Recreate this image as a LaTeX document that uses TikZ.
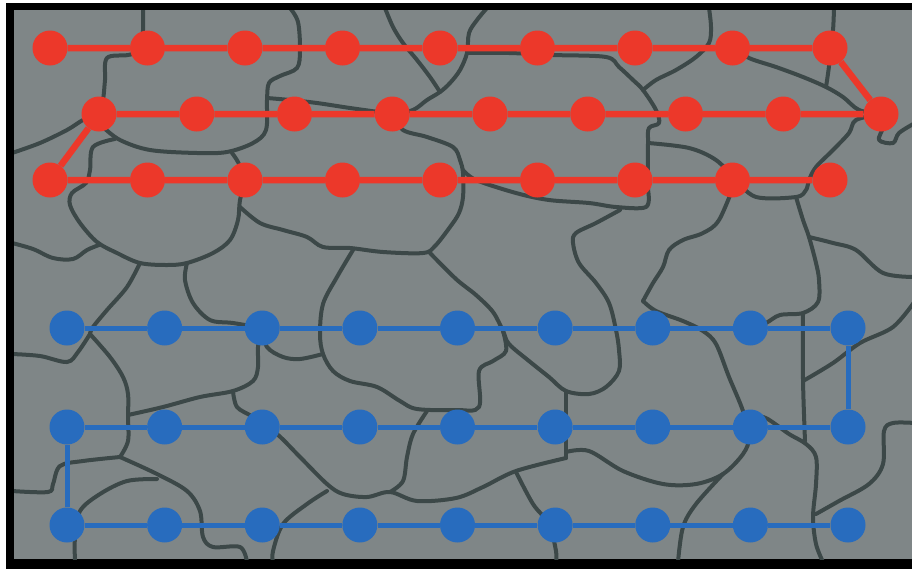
\documentclass[tikz,border=0pt]{standalone}
\usetikzlibrary{calc}
\definecolor{fieldgray}{RGB}{127,134,135}
\definecolor{wallslate}{RGB}{60,72,72}
\definecolor{routered}{RGB}{236,56,42}
\definecolor{routeblue}{RGB}{40,108,190}
\tikzset{
  wall/.style={draw=wallslate, line width=4pt, line cap=round, line join=round},
  reddot/.style={circle, fill=routered, inner sep=0pt, minimum size=35pt},
  bluedot/.style={circle, fill=routeblue, inner sep=0pt, minimum size=35pt},
  redroute/.style={draw=routered, line width=6.5pt},
  blueroute/.style={draw=routeblue, line width=5pt},
}
\newcommand{\wallpath}[1]{\draw[wall] plot[smooth, tension=0.55] coordinates {#1};}
\begin{document}
\begin{tikzpicture}[x=1pt, y=-1pt]
\useasboundingbox (0,0) rectangle (912,568);
\fill[white] (0,0) rectangle (912,568);
% frame and field
\fill[black] (6,3) rectangle (930,590);
\fill[fieldgray] (14,10) rectangle (930,559);

% cell walls
\begin{scope}
\clip (14,10) rectangle (930,559);
\wallpath{(143,8) (143,30) (141,50) (128,55) (107,58) (105,80) (103,100) (99,114)}
\wallpath{(103,127) (120,140) (150,150) (197,153) (227,152) (253,143) (266,130) (267,100) (269,83) (280,76) (297,68) (300,50) (298,22) (290,8)}
\wallpath{(267,98) (290,100) (317,103) (350,108) (393,114)}
\wallpath{(12,153) (40,143) (67,130) (83,120) (99,114)}
\wallpath{(115,139) (93,147) (90,170) (86,183) (72,193) (70,205) (80,223) (97,242) (117,253) (140,263) (167,265) (187,263) (213,253) (230,240) (238,220) (240,200) (246,180)}
\wallpath{(246,180) (238,162) (232,153)}
\wallpath{(12,243) (33,249) (53,258) (73,259) (87,250) (99,245)}
\wallpath{(240,207) (260,223) (283,230) (307,237) (323,247) (350,248) (383,252) (423,253) (435,246) (450,227) (459,213) (463,197) (463,173) (460,160) (453,147) (427,137) (403,130) (393,114)}
\wallpath{(463,170) (476,180) (516,193) (549,200) (589,203) (616,207) (646,207) (648,190)}
\wallpath{(430,253) (456,279) (476,295) (493,312) (503,331) (509,344) (529,361) (549,377) (566,391) (589,394) (606,387) (619,371) (619,350) (616,330) (609,303) (596,283) (579,263) (573,243) (576,233) (596,223) (620,210)}
\wallpath{(503,331) (506,351) (493,361) (479,371) (479,407) (456,410) (417,409) (400,401) (377,387) (350,381) (333,371) (323,354) (320,334) (323,304) (337,277) (353,250)}
\wallpath{(427,411) (413,434) (407,457) (403,481) (390,492)}
\wallpath{(323,354) (300,359) (283,357) (267,347) (262,328)}
\wallpath{(187,263) (185,280) (193,303) (210,320) (233,323) (262,328)}
\wallpath{(140,263) (127,287) (107,310) (93,327) (90,334)}
\wallpath{(12,354) (40,356) (67,362) (78,352) (90,334)}
\wallpath{(90,334) (110,357) (123,377) (128,394) (128,417) (128,441) (120,457)}
\wallpath{(120,457) (83,461) (60,466) (53,484) (48,492) (12,491)}
\wallpath{(120,457) (157,474) (187,491) (200,511) (203,537) (213,547) (240,547) (247,562)}
\wallpath{(157,479) (127,481) (100,494) (80,511) (75,537) (75,562)}
\wallpath{(128,415) (163,407) (200,397) (233,391) (253,381) (258,367) (258,347) (262,328)}
\wallpath{(233,391) (237,407) (253,417) (277,434) (300,457) (327,484) (343,494) (367,497) (390,492) (417,501) (456,498) (483,487) (516,471) (566,458)}
\wallpath{(566,391) (566,424) (566,458)}
\wallpath{(566,452) (589,451) (623,471) (663,484) (696,484) (723,474) (743,454) (749,437) (743,411) (729,377) (716,344) (703,331) (683,321) (656,311) (643,301)}
\wallpath{(643,301) (653,283) (663,267) (669,250) (683,240) (703,233) (719,220) (736,180)}
\wallpath{(796,197) (803,220) (809,237) (816,263) (819,280) (818,302) (803,313) (780,315) (766,323) (751,328)}
\wallpath{(803,313) (803,380) (805,441)}
\wallpath{(751,427) (763,417) (789,434) (806,444) (816,457) (816,484) (813,517) (816,544) (823,562)}
\wallpath{(803,381) (833,363) (860,343) (893,327) (915,301)}
\wallpath{(816,514) (839,501) (869,484) (883,464) (884,431) (893,423) (915,423)}
\wallpath{(516,472) (533,504) (549,524) (556,551) (556,562)}
\wallpath{(723,474) (696,504) (683,527) (678,562)}
\wallpath{(327,491) (307,504) (283,524) (273,551) (273,562)}
\wallpath{(487,8) (477,20) (469,33) (467,53) (460,70) (450,83) (440,92) (427,100) (413,110) (393,114)}
\wallpath{(385,8) (393,27) (403,43) (417,60) (430,77) (440,92)}
\wallpath{(467,53) (509,53) (553,55) (606,57) (619,67) (633,80) (643,90) (656,110) (659,123) (649,128) (648,143) (648,190)}
\wallpath{(643,90) (656,80) (676,70) (696,57) (709,43) (711,27) (709,8)}
\wallpath{(736,48) (749,58) (776,67) (803,77) (826,87) (843,97) (859,110) (881,114)}
\wallpath{(834,8) (833,30) (830,48) (829,66) (826,87)}
\wallpath{(881,114) (856,120) (849,133) (833,150) (816,167) (809,180) (806,190) (796,197) (756,197) (736,180)}
\wallpath{(881,114) (883,127) (879,140) (893,143) (899,133) (915,123)}
\wallpath{(648,143) (689,148) (716,160) (736,180)}
\wallpath{(809,237) (833,243) (856,250) (883,273) (915,277)}
\end{scope}

% red route stops
\foreach \i in {1,...,9} {
  \node[reddot] (r1-\i) at ({50+97.5*(\i-1)},48) {};
  \node[reddot] (r2-\i) at ({99+97.75*(\i-1)},114) {};
  \node[reddot] (r3-\i) at ({50+97.5*(\i-1)},180) {};
}
% red route
\draw[redroute] (r1-1) -- (r1-2) -- (r1-3) -- (r1-4) -- (r1-5) -- (r1-6) -- (r1-7) -- (r1-8) -- (r1-9)
  -- (r2-9) -- (r2-8) -- (r2-7) -- (r2-6) -- (r2-5) -- (r2-4) -- (r2-3) -- (r2-2) -- (r2-1)
  -- (r3-1) -- (r3-2) -- (r3-3) -- (r3-4) -- (r3-5) -- (r3-6) -- (r3-7) -- (r3-8) -- (r3-9);

% blue route stops
\foreach \i in {1,...,9} {
  \node[bluedot] (b1-\i) at ({67+97.625*(\i-1)},328) {};
  \node[bluedot] (b2-\i) at ({67+97.625*(\i-1)},427) {};
  \node[bluedot] (b3-\i) at ({67+97.625*(\i-1)},525) {};
}
% blue route
\draw[blueroute] (b1-1) -- (b1-2) -- (b1-3) -- (b1-4) -- (b1-5) -- (b1-6) -- (b1-7) -- (b1-8) -- (b1-9)
  -- (b2-9) -- (b2-8) -- (b2-7) -- (b2-6) -- (b2-5) -- (b2-4) -- (b2-3) -- (b2-2) -- (b2-1)
  -- (b3-1) -- (b3-2) -- (b3-3) -- (b3-4) -- (b3-5) -- (b3-6) -- (b3-7) -- (b3-8) -- (b3-9);
\end{tikzpicture}
\end{document}
